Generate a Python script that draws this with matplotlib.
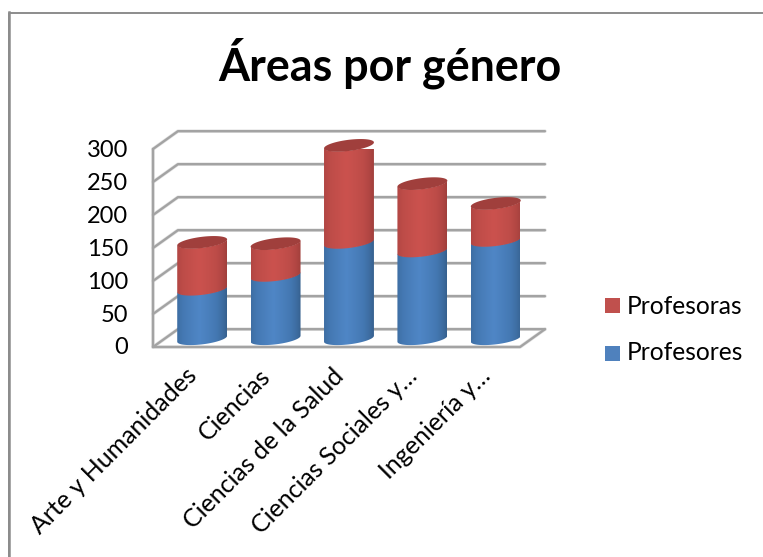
import numpy as np
import matplotlib
matplotlib.use('Agg')
import matplotlib.pyplot as plt
from matplotlib.colors import LinearSegmentedColormap
from matplotlib.patches import PathPatch, Polygon, Rectangle
from matplotlib.path import Path

plt.rcParams['font.family'] = ['Lato', 'DejaVu Sans']

W, H = 763, 557

# datos
categorias = ['Arte y Humanidades', 'Ciencias', 'Ciencias de la Salud',
              'Ciencias Sociales y…', 'Ingeniería y…']
profesores = [76, 97, 147, 134, 150]
profesoras = [70, 47, 146, 101, 55]
ticks_y = [0, 50, 100, 150, 200, 250, 300]

# profundidad del "3D" en unidades de los ejes
dx = 0.34
dy = 27
medio_ancho = 0.34
b = 8.5      # semieje vertical de la elipse
corte = 4.5  # inclinacion de la elipse

fig = plt.figure(figsize=(W / 100, H / 100), dpi=100)

# marco exterior, solo arriba e izquierda
fondo = fig.add_axes([0, 0, 1, 1])
fondo.set_xlim(0, W)
fondo.set_ylim(H, 0)
fondo.axis('off')
fondo.plot([W, 9, 9], [12.5, 12.5, H], color='#8c8c8c', lw=1.4)
fondo.plot([9, 9], [12, H], color='#8c8c8c', lw=1.8)

ax = fig.add_axes([153 / W, 1 - 347 / H, 367 / W, 198 / H])
ax.set_xlim(0, 5)
ax.set_ylim(0, 300)
ax.axis('off')


def linea(xs, ys):
    ax.plot(xs, ys, color='#e4e4e4', lw=2.6, clip_on=False, zorder=1,
            solid_capstyle='round')
    ax.plot(xs, ys, color='#a3a3a3', lw=1.7, clip_on=False, zorder=2,
            solid_capstyle='round')


# paredes y rejilla
for v in ticks_y:
    linea([0, dx, 5 + dx], [v, v + dy, v + dy])
linea([0, 0], [0, 300])
linea([0, 5, 5 + dx], [0, 0, dy])


def arco(cx, cy):
    t = np.linspace(np.pi, 2 * np.pi, 40)
    return cx + medio_ancho * np.cos(t), cy + b * np.sin(t) + corte * np.cos(t)


def cuerpo(cx, y0, y1, colores):
    xa, ya = arco(cx, y0)
    xb, yb = arco(cx, y1)
    verts = np.vstack([np.column_stack([xa, ya]),
                       np.column_stack([xb[::-1], yb[::-1]]),
                       [[xa[0], ya[0]]]])
    parche = PathPatch(Path(verts), fc='none', ec='none', clip_on=False)
    ax.add_patch(parche)
    cmap = LinearSegmentedColormap.from_list('c', colores)
    grad = np.linspace(0, 1, 40)
    claro = np.clip(1 - np.abs(grad - 0.45) / 0.55, 0, 1) ** 0.7
    im = ax.imshow(cmap(claro)[np.newaxis, :, :],
                   extent=[cx - medio_ancho, cx + medio_ancho, y0 - 15, y1 + 15],
                   aspect='auto', interpolation='bilinear', zorder=3, clip_on=True)
    im.set_clip_path(parche)


azul = ['#36618f', '#4478b2', '#4f86c6']
rojo = ['#a13f3c', '#bd4c48', '#cb524e']

for i in range(len(categorias)):
    cx = i + 0.5 + dx / 2
    base = dy / 2 - 1
    medio = base + profesores[i]
    tope = medio + profesoras[i]
    cuerpo(cx, base, medio, azul)
    cuerpo(cx, medio - 1, tope + 0.5, rojo)
    t = np.linspace(0, 2 * np.pi, 80)
    ax.add_patch(Polygon(np.column_stack([cx + medio_ancho * np.cos(t),
                                          tope + b * np.sin(t) + corte * np.cos(t)]),
                         fc='#a03f3c', ec='none', zorder=4, clip_on=False))
ax.set_xlim(0, 5)
ax.set_ylim(0, 300)

# etiquetas
for v in ticks_y:
    ax.annotate(str(v), (0, v), xytext=(-25, -1), textcoords='offset pixels',
                ha='right', va='center', fontsize=17, color='black', annotation_clip=False)

for i, c in enumerate(categorias):
    ax.annotate(c, (i + 0.5, 0), xytext=(-5, -17), textcoords='offset pixels',
                ha='right', va='top', rotation=45, rotation_mode='anchor',
                fontsize=18, color='black', annotation_clip=False)

fig.text(390 / W, 1 - 63 / H, 'Áreas por género', ha='center', va='center',
         fontsize=32.3, fontweight='bold', color='black')

# leyenda
fondo.add_patch(Rectangle((605, 298), 15, 15, fc='#c0504d', ec='none'))
fondo.add_patch(Rectangle((605, 346), 15, 15, fc='#4f81bd', ec='none'))
fondo.text(627, 306, 'Profesoras', fontsize=17.7, va='center', ha='left')
fondo.text(627, 353, 'Profesores', fontsize=17.7, va='center', ha='left')

fig.savefig('out.png', dpi=100)
